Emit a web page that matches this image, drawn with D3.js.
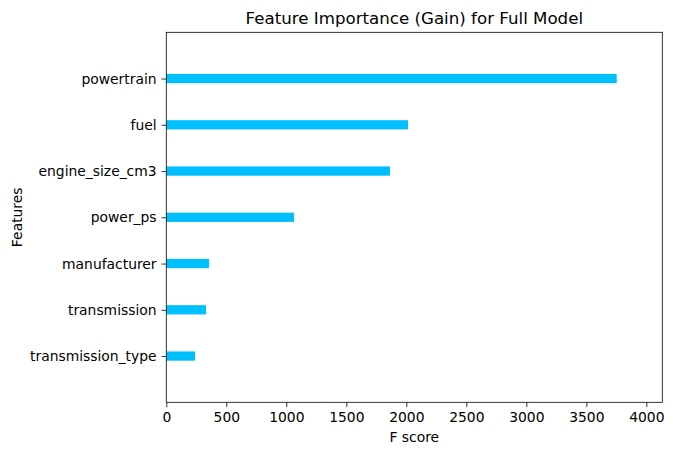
<!DOCTYPE html>
<html>
<head>
<meta charset="utf-8">
<script src="https://cdn.jsdelivr.net/npm/d3@7"></script>
<style>
  body { margin: 0; background: #fff; }
  text { font-family: "DejaVu Sans", sans-serif; fill: #000; }
</style>
</head>
<body>
<svg id="chart"></svg>
<script>
// features from bottom to top, as matplotlib draws them
var features = ["transmission_type", "transmission", "manufacturer", "power_ps", "engine_size_cm3", "fuel", "powertrain"];
var scores = [240, 331, 356, 1064, 1864, 2014, 3753];
var xTicks = [0, 500, 1000, 1500, 2000, 2500, 3000, 3500, 4000];

var svgWidth = 673, svgHeight = 455;
var plotLeft = 166.3, plotRight = 662.3, plotTop = 32.3, plotBottom = 402.3; // plot box edges
var fontSize = "13.89px"; // 10pt at 100 dpi
var tick = 4.86; // 3.5pt

var svg = d3.select("#chart")
    .attr("width", svgWidth)
    .attr("height", svgHeight);

var xScale = d3.scaleLinear()
    .domain([0, 4133])
    .range([plotLeft, plotRight]);

// positions 0..n-1 with one unit padding each side
var yScale = d3.scaleLinear()
    .domain([-1, features.length])
    .range([plotBottom, plotTop]);

var barH = yScale(0) - yScale(0.2);

svg.selectAll("rect.bar")
    .data(scores)
    .enter()
    .append("rect")
    .attr("class", "bar")
    .attr("x", xScale(0))
    .attr("y", function (d, i) { return yScale(i) - barH / 2; })
    .attr("width", function (d) { return xScale(d) - xScale(0); })
    .attr("height", barH)
    .attr("fill", "#00bfff");

// *** axes ***
var x_axis = d3.axisBottom(xScale)
    .tickValues(xTicks)
    .tickFormat(d3.format("d"))
    .tickSize(tick)
    .tickPadding(tick);

var y_axis = d3.axisLeft(yScale)
    .tickValues(d3.range(features.length))
    .tickFormat(function (d) { return features[d]; })
    .tickSize(tick)
    .tickPadding(tick);

var gx = svg.append("g")
    .attr("transform", "translate(0," + plotBottom + ")")
    .call(x_axis);

var gy = svg.append("g")
    .attr("transform", "translate(" + plotLeft + ",0)")
    .call(y_axis);

[gx, gy].forEach(function (g) {
    g.select(".domain").remove();
    g.selectAll(".tick line").attr("stroke", "#000").attr("stroke-width", 0.8);
    g.selectAll(".tick text").attr("font-size", fontSize).attr("font-family", "DejaVu Sans");
});

// frame around the plot
svg.append("rect")
    .attr("x", plotLeft)
    .attr("y", plotTop)
    .attr("width", plotRight - plotLeft)
    .attr("height", plotBottom - plotTop)
    .attr("fill", "none")
    .attr("stroke", "#000")
    .attr("stroke-width", 0.8);

// *** labels ***
svg.append("text")
    .attr("x", (plotLeft + plotRight) / 2)
    .attr("y", 24)
    .attr("text-anchor", "middle")
    .attr("font-size", "16.67px")
    .text("Feature Importance (Gain) for Full Model");

svg.append("text")
    .attr("x", (plotLeft + plotRight) / 2)
    .attr("y", 442)
    .attr("text-anchor", "middle")
    .attr("font-size", fontSize)
    .text("F score");

svg.append("text")
    .attr("transform", "translate(22," + (plotTop + plotBottom) / 2 + ") rotate(-90)")
    .attr("text-anchor", "middle")
    .attr("font-size", fontSize)
    .text("Features");
</script>
</body>
</html>
